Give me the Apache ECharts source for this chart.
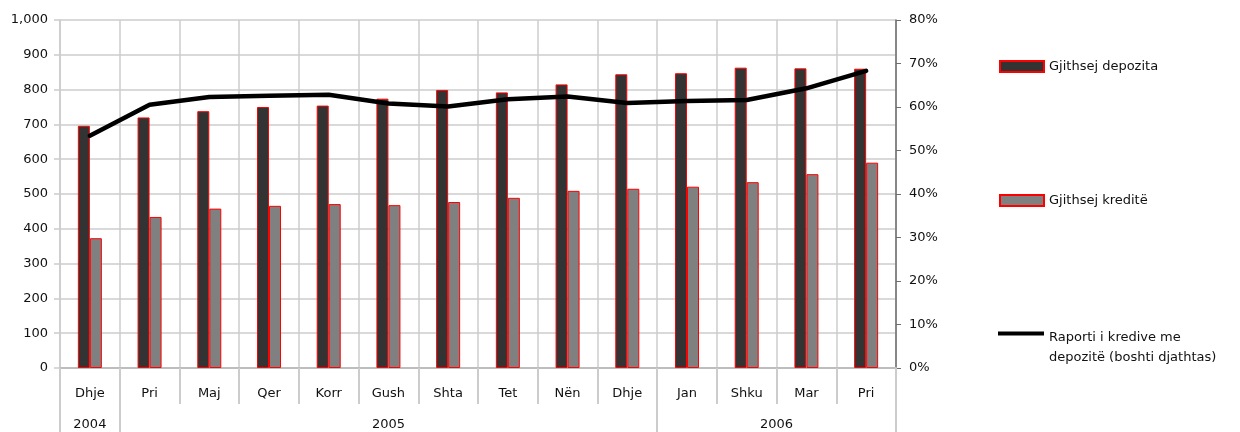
<!DOCTYPE html>
<html>
<head>
<meta charset="utf-8">
<script src="https://cdn.jsdelivr.net/npm/echarts@6/dist/echarts.min.js"></script>
<style>
  html, body { margin: 0; padding: 0; background: #fff; }
  #chart { width: 1240px; height: 432px; }
</style>
</head>
<body>
<div id="chart"></div>
<script>
const months = ['Dhje', 'Pri', 'Maj', 'Qer', 'Korr', 'Gush', 'Shta', 'Tet', 'Nën', 'Dhje', 'Jan', 'Shku', 'Mar', 'Pri']
const years = ['2004', '2005', '2006']
const yearSpan = [1, 9, 4]
const deposits = [696, 720, 738, 750, 754, 774, 799, 792, 815, 844, 847, 863, 861, 860]
const credits = [373, 434, 458, 466, 471, 468, 477, 489, 509, 515, 521, 534, 557, 590]
const ratio = [53.4, 60.5, 62.3, 62.6, 62.8, 60.8, 60.1, 61.8, 62.4, 60.9, 61.4, 61.6, 64.3, 68.3]

const names = ['Gjithsej depozita', 'Gjithsej kreditë', 'Raporti i kredive me depozitë (boshti djathtas)']

// year group edges and centres on a 0..n scale
const edges = [0]
const centres = []
yearSpan.forEach((s, i) => {
  centres.push(edges[i] + s / 2)
  edges.push(edges[i] + s)
})

const font = 'DejaVu Sans'
const gridColor = '#cccccc'

const chart = echarts.init(document.getElementById('chart'))
const option = {
  animation: false,
  textStyle: { fontFamily: font },
  grid: { left: 60, right: 344, top: 20, bottom: 64 },
  legend: [
    {
      data: [{ name: names[0], icon: 'rect' }], left: 994, top: 55, itemWidth: 44, itemHeight: 11,
      textStyle: { fontFamily: font, fontSize: 13, color: '#111' }
    },
    {
      data: [{ name: names[1], icon: 'rect' }], left: 994, top: 189, itemWidth: 44, itemHeight: 11,
      textStyle: { fontFamily: font, fontSize: 13, color: '#111' }
    },
    {
      data: [{ name: names[2], icon: 'rect' }], left: 993, top: 302, itemWidth: 46, itemHeight: 4,
      // empty first line pushes the two text lines below the icon, as in the source
      formatter: () => '{gap| }\n{t|Raporti i kredive me}\n{t|depozitë (boshti djathtas)}',
      textStyle: {
        fontFamily: font, fontSize: 13, color: '#111',
        rich: {
          gap: { lineHeight: 28, fontSize: 13 },
          t: { lineHeight: 20, fontSize: 13, fontFamily: font, color: '#111' }
        }
      }
    }
  ],
  xAxis: [
    {
      type: 'category',
      data: months,
      boundaryGap: true,
      axisLine: { lineStyle: { color: '#bdbdbd', width: 2 } },
      axisTick: { show: true, interval: 0, length: 36, lineStyle: { color: gridColor, width: 2 } },
      axisLabel: { interval: 0, margin: 19, fontSize: 13, color: '#111', fontFamily: font },
      splitLine: { show: true, interval: 0, lineStyle: { color: gridColor, width: 1.5 } }
    },
    {
      type: 'value',
      min: 0,
      max: months.length,
      position: 'bottom',
      axisLine: { show: false },
      splitLine: { show: false },
      axisTick: { show: true, customValues: edges, length: 64, lineStyle: { color: gridColor, width: 2 } },
      axisLabel: {
        customValues: centres,
        margin: 50,
        fontSize: 13,
        color: '#111',
        fontFamily: font,
        formatter: (v) => {
          const i = centres.indexOf(v)
          return i >= 0 ? years[i] : ''
        }
      }
    }
  ],
  yAxis: [
    {
      type: 'value',
      min: 0,
      max: 1000,
      interval: 100,
      axisLine: { show: true, lineStyle: { color: gridColor, width: 1.5 } },
      axisTick: { show: true, length: 6, lineStyle: { color: gridColor, width: 1.5 } },
      axisLabel: {
        margin: 12, fontSize: 13, color: '#111', fontFamily: font,
        formatter: (v) => v.toLocaleString('en-US')
      },
      splitLine: { show: true, lineStyle: { color: gridColor, width: 1.5 } }
    },
    {
      type: 'value',
      min: 0,
      max: 80,
      interval: 10,
      position: 'right',
      axisLine: { show: true, lineStyle: { color: '#6e6e6e', width: 1.5 } },
      axisTick: { show: true, length: 5, lineStyle: { color: '#6e6e6e' } },
      axisLabel: { margin: 13, fontSize: 13, color: '#111', fontFamily: font, formatter: '{value}%' },
      splitLine: { show: false }
    }
  ],
  series: [
    {
      name: names[0],
      type: 'bar',
      data: deposits,
      barWidth: 12,
      barGap: '0%',
      itemStyle: { color: '#333333', borderColor: '#ff0000', borderWidth: 1 }
    },
    {
      name: names[1],
      type: 'bar',
      data: credits,
      barWidth: 12,
      barGap: '0%',
      itemStyle: { color: '#808080', borderColor: '#ff0000', borderWidth: 1 }
    },
    {
      name: names[2],
      type: 'line',
      yAxisIndex: 1,
      data: ratio,
      symbol: 'none',
      z: 5,
      itemStyle: { color: '#000' },
      lineStyle: { color: '#000', width: 4.5, cap: 'round', join: 'round' }
    }
  ]
}
chart.setOption(option)
</script>
</body>
</html>
